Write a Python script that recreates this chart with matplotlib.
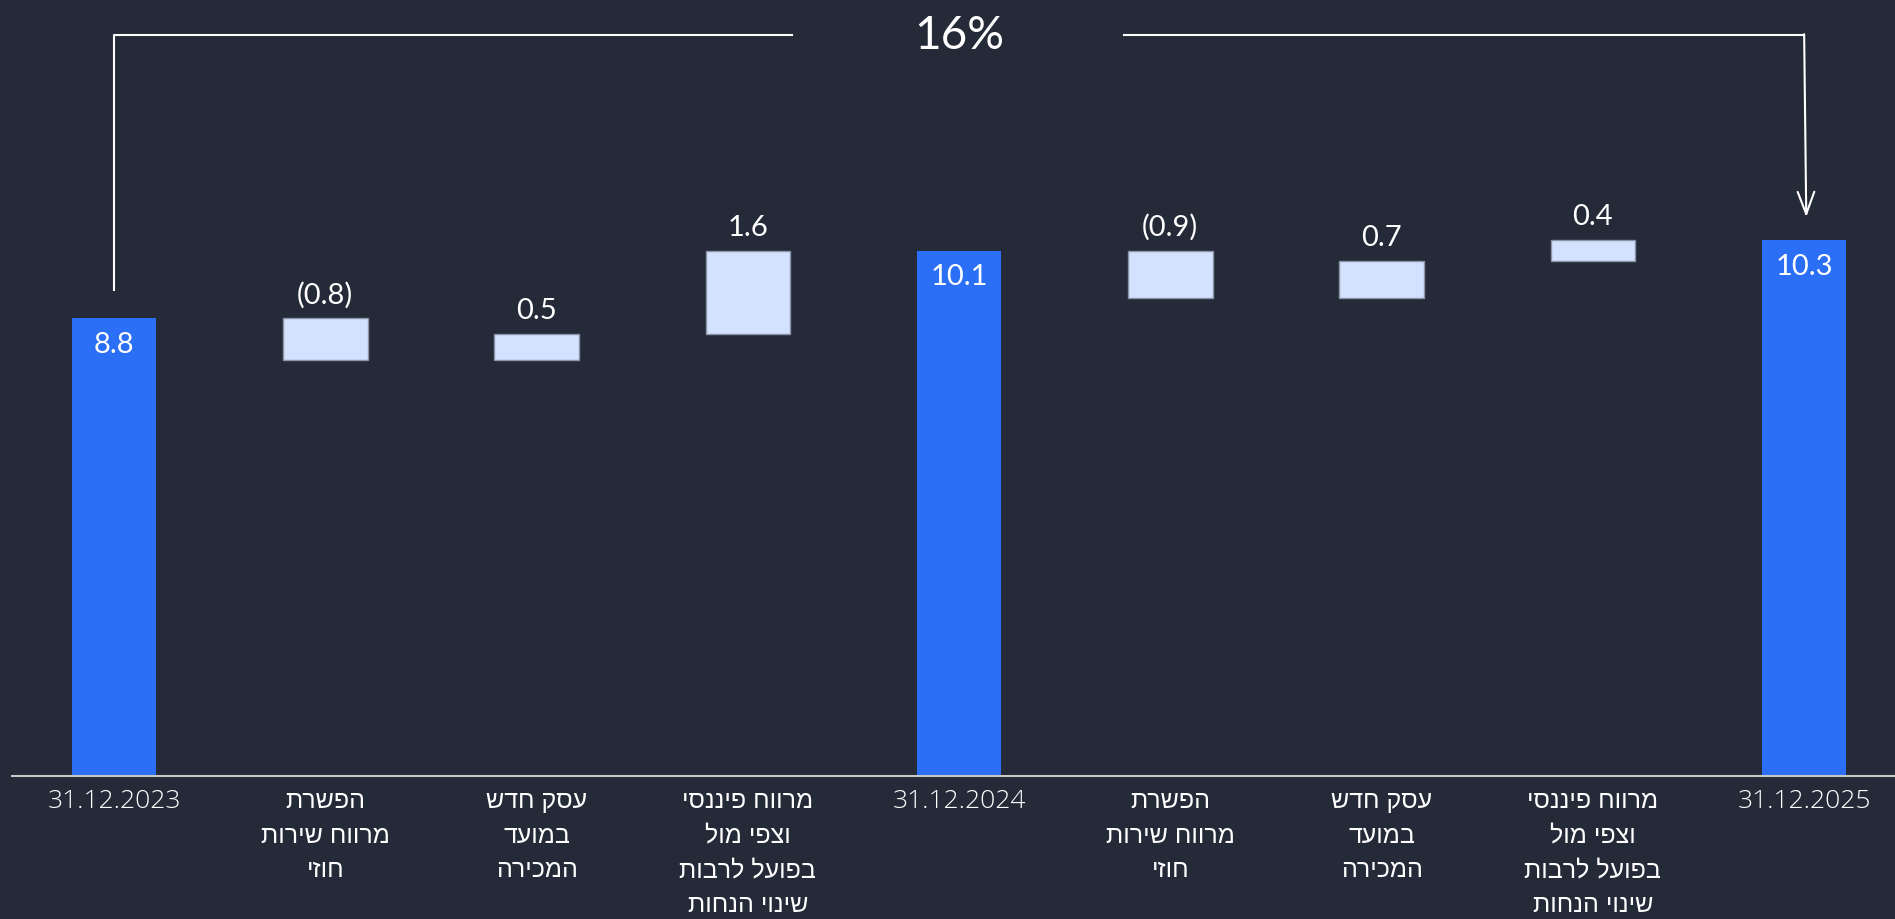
import matplotlib
matplotlib.use("Agg")
import matplotlib.pyplot as plt

# waterfall values (billions), totals and changes
labels = ["31.12.2023", "הפשרת\nמרווח שירות\nחוזי", "עסק חדש\nבמועד\nהמכירה",
          "מרווח פיננסי\nוצפי מול\nבפועל לרבות\nשינוי הנחות", "31.12.2024",
          "הפשרת\nמרווח שירות\nחוזי", "עסק חדש\nבמועד\nהמכירה",
          "מרווח פיננסי\nוצפי מול\nבפועל לרבות\nשינוי הנחות", "31.12.2025"]
values = [8.8, -0.8, 0.5, 1.6, 10.1, -0.9, 0.7, 0.4, 10.3]
is_total = [True, False, False, False, True, False, False, False, True]
growth_label = "16%"

bg = "#252a38"
blue = "#2a6ff5"
light = "#d3e2ff"


def is_hebrew(s):
    return any("\u0590" <= c <= "\u05ff" for c in s)


def rtl(s):
    # matplotlib has no bidi, so flip each hebrew line by hand
    if is_hebrew(s):
        return "\n".join(line[::-1] for line in s.split("\n"))
    return s


fig = plt.figure(figsize=(18.95, 9.2), dpi=100, facecolor=bg)
ax = fig.add_axes([12 / 1895, 1 - 777 / 920, 1 - 12 / 1895, 777 / 920])
ax.set_facecolor(bg)

num_fonts = ["Lato", "DejaVu Sans"]

level = 0
for i, v in enumerate(values):
    if is_total[i]:
        ax.bar(i, v, width=0.4, color=blue)
        ax.annotate(f"{v:.1f}", (i, v), xytext=(0, -9), textcoords="offset points",
                    ha="center", va="top", color="white", fontsize=21, family=num_fonts)
        level = v
    else:
        lo = min(level, level + v)
        ax.bar(i, abs(v), bottom=lo, width=0.4, color=light, edgecolor="#8b93a8", linewidth=1)
        txt = f"({abs(v):.1f})" if v < 0 else f"{v:.1f}"
        ax.annotate(txt, (i, lo + abs(v)), xytext=(0, 8), textcoords="offset points",
                    ha="center", va="bottom", color="white", fontsize=21, family=num_fonts)
        level += v

# bracket with the growth between first and last total
top = 14.25
ax.plot([0, 0, 3.21], [values[0] + 0.55, top, top], color="white", lw=1.5, clip_on=False)
ax.plot([4.78, 8], [top, top], color="white", lw=1.5, clip_on=False)
ax.annotate("", xy=(8.01, values[-1] + 0.45), xytext=(8, top + 0.015),
            arrowprops=dict(arrowstyle="->,head_length=1.6,head_width=0.6", color="white", lw=1.5,
                            shrinkA=0, shrinkB=0))
ax.text(4.0, top, growth_label, ha="center", va="center", color="white", fontsize=33,
        family=num_fonts)

ax.set_xlim(-0.483, 8.43)
ax.set_ylim(0, 777 / 52)
ax.set_xticks(range(len(values)))
ax.set_xticklabels([rtl(l) for l in labels], color="white", fontsize=18,
                   va="top", linespacing=1.55)
for t, l in zip(ax.get_xticklabels(), labels):
    if is_hebrew(l):
        t.set_family(["Liberation Sans", "DejaVu Sans"])
    else:
        t.set_family(["Open Sans", "DejaVu Sans"])
        t.set_fontweight("light")
        t.set_fontsize(19)
ax.tick_params(axis="x", length=0, pad=9)
ax.set_yticks([])
for s in ["top", "left", "right"]:
    ax.spines[s].set_visible(False)
ax.spines["bottom"].set_color("#c8c8c8")
ax.spines["bottom"].set_linewidth(1.5)

fig.savefig("out.png", dpi=100, facecolor=bg)
